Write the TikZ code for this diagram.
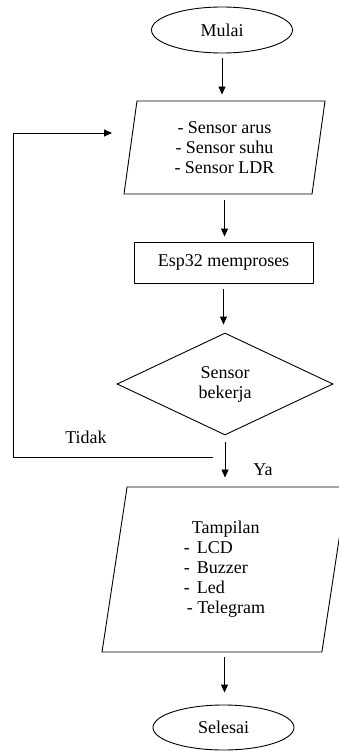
\documentclass[tikz,border=0pt]{standalone}
\usepackage{fontspec}
\setmainfont{Liberation Serif}
\usetikzlibrary{shapes.geometric,arrows.meta}

\begin{document}
\begin{tikzpicture}[x=1pt, y=-1pt, line width=0.9pt, font=\fontsize{18}{20}\selectfont,
    terminal/.style={ellipse, draw, minimum width=141pt, minimum height=46pt, inner sep=0pt},
    io/.style={trapezium, draw, trapezium stretches body, align=center, inner sep=0pt},
    process/.style={rectangle, draw, minimum width=179pt, minimum height=41pt, inner sep=0pt},
    decision/.style={diamond, draw, minimum width=216pt, minimum height=102pt, inner sep=0pt, align=center},
    arr/.style={-{Triangle[length=8pt,width=7pt]}}]
    \useasboundingbox (0,0) rectangle (339,751);
    \clip (0,0) rectangle (339,751);

    % flow from top to bottom
    \node[terminal] (mulai) at (222,30) {Mulai};
    \node[io, trapezium left angle=76, trapezium right angle=104,
          minimum width=201pt, minimum height=93pt] (input) at (224.5,147.5)
        {- Sensor arus\\- Sensor suhu\\- Sensor LDR};
    \node[process] (esp) at (223.5,262.5) {Esp32 memproses};
    \node[decision] (cek) at (225,384) {Sensor\\bekerja};
    \node[io, trapezium left angle=75.4, trapezium right angle=104.6, align=left,
          minimum width=245pt, minimum height=165pt] (tampil) at (224.5,569.5)
        {\hspace*{8pt}Tampilan\\-\hspace{7pt}LCD\\-\hspace{7pt}Buzzer\\-\hspace{7pt}Led\\\hspace*{3pt}- Telegram};
    \node[terminal, minimum height=45pt] (selesai) at (223.5,727.5) {Selesai};

    \draw[arr, shorten <=5pt, shorten >=6pt] (mulai.south) -- (mulai.south |- input.north);
    \draw[arr, shorten <=6pt, shorten >=5pt] (input.south) -- (input.south |- esp.north);
    \draw[arr, shorten <=6pt, shorten >=8pt] (esp.south) -- (esp.south |- cek.north);
    \draw[arr, shorten <=7pt, shorten >=9pt] (cek.south) -- (cek.south |- tampil.north);
    \draw[arr, shorten <=5pt, shorten >=12pt] (tampil.south) -- (tampil.south |- selesai.north);

    % loop back when the sensor does not work
    \coordinate (split) at (213,457);
    \coordinate (ltop) at (13,133);
    \coordinate (back) at (112,133);
    \draw[arr] (split) -| (ltop) -- (back);

    \node (tidak) at (86,437) {Tidak};
    \node (ya) at (263,470) {Ya};
\end{tikzpicture}
\end{document}
